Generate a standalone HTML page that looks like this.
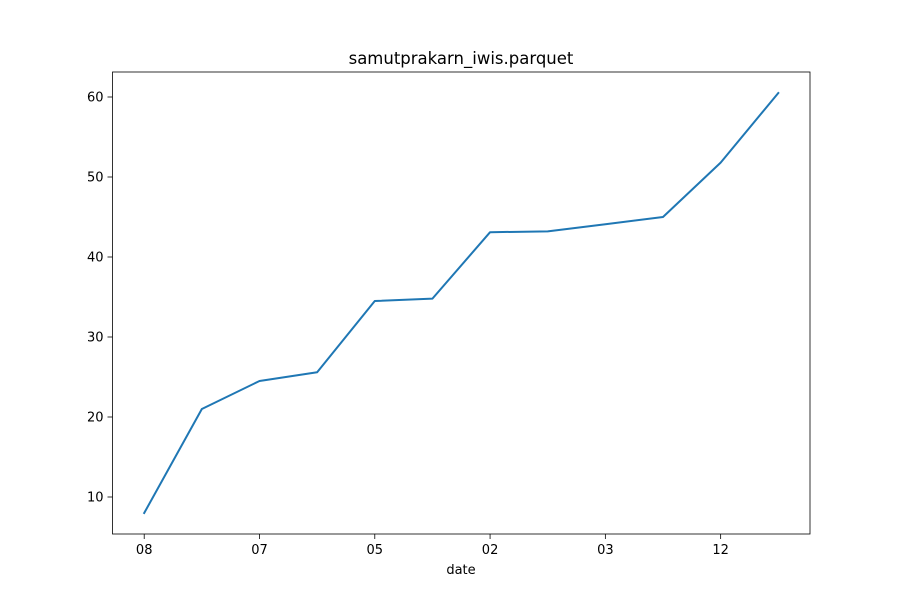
<!DOCTYPE html>
<html><head><meta charset="utf-8"><style>body{margin:0;background:#fff}svg text{font-family:"DejaVu Sans","Liberation Sans",sans-serif}</style></head>
<body>
<svg id="c" width="900" height="600" xmlns="http://www.w3.org/2000/svg"></svg>
<script>
const categories=["08","","07","","05","","02","","03","","12",""];
const values=[8.0,21.0,24.5,25.6,34.5,34.8,43.1,43.2,44.1,45.0,51.8,60.5];
const yTicks=[10,20,30,40,50,60];
const L=112.5,R=810,T=72,B=534;
const n=values.length;
const xm=(n-1)*0.05;
const X=i=>L+(i+xm)/((n-1)+2*xm)*(R-L);
const mn=Math.min(...values),mx=Math.max(...values),sp=mx-mn;
const y0=mn-sp*0.05,y1=mx+sp*0.05;
const Y=v=>B-(v-y0)/(y1-y0)*(B-T);
const s=document.getElementById('c');
const NS="http://www.w3.org/2000/svg";
function mk(t,a,txt){const e=document.createElementNS(NS,t);for(const k in a)e.setAttribute(k,a[k]);if(txt!==undefined)e.textContent=txt;s.appendChild(e);return e;}
let e=mk('text',{x:461,y:64,'text-anchor':'middle','font-size':16.5},'samutprakarn_iwis.parquet');


categories.forEach((c,i)=>{if(!c)return;const x=X(i);
let t=mk('line',{x1:x,x2:x,y1:B,y2:B+5,stroke:'#000','stroke-width':0.8});


let l=mk('text',{x:x,y:B+20,'text-anchor':'middle','font-size':13},c);

});
yTicks.forEach(v=>{const y=Y(v);
let t=mk('line',{x1:L-5,x2:L,y1:y,y2:y,stroke:'#000','stroke-width':0.8});


let l=mk('text',{x:L-9,y:y+4.5,'text-anchor':'end','font-size':13},v);

});
e=mk('text',{x:461,y:574,'text-anchor':'middle','font-size':13},'date');


e=mk('polyline',{points:values.map((v,i)=>X(i)+','+Y(v)).join(' '),fill:'none',stroke:'#1f77b4','stroke-width':2,'stroke-linejoin':'round','stroke-linecap':'square'});


e=mk('rect',{x:L,y:T,width:R-L,height:B-T,fill:'none',stroke:'#000','stroke-width':0.8});


</script>
</body></html>
